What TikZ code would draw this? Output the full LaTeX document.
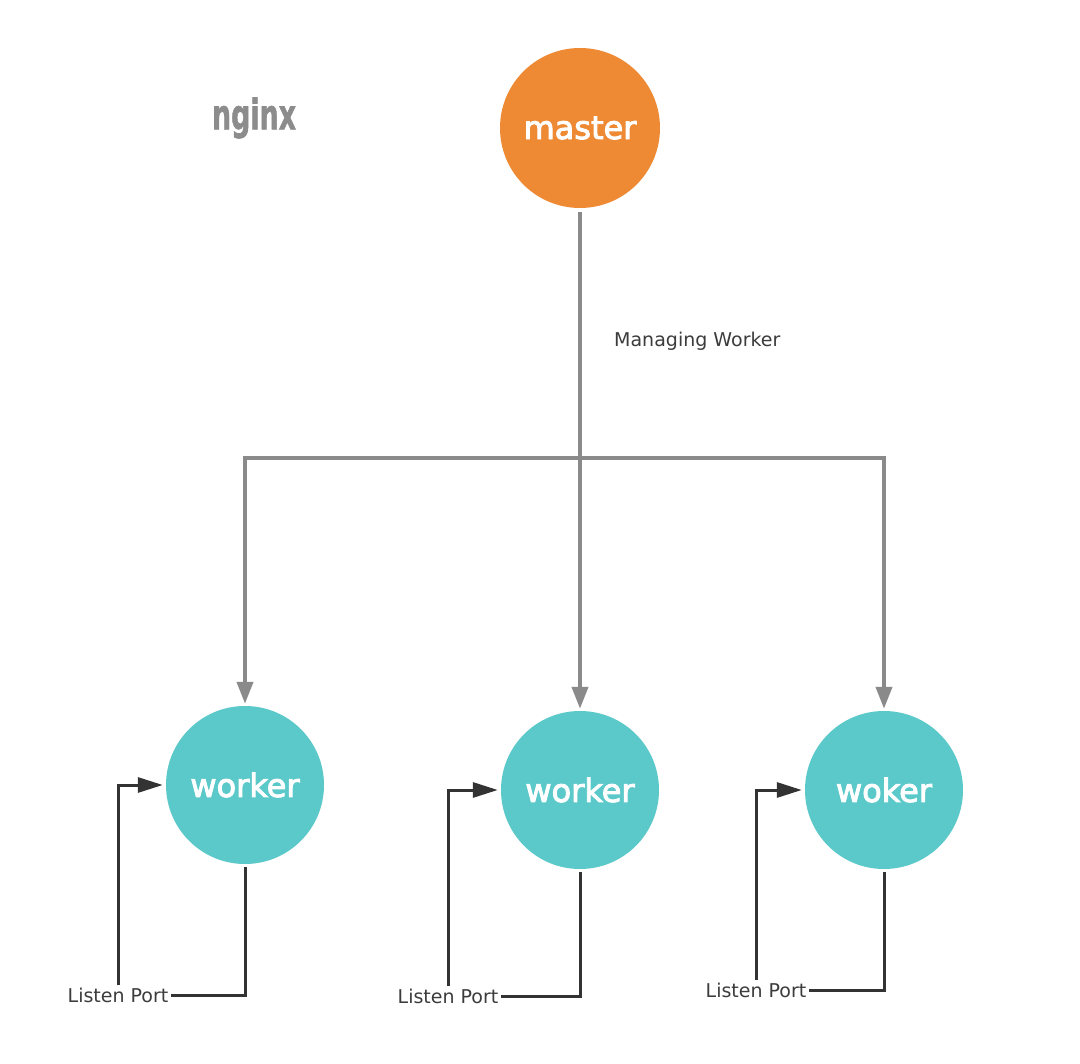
\documentclass[tikz,border=0pt]{standalone}
\usepackage{fontspec}
\setmainfont{DejaVu Sans}
\newfontfamily\boldfam{DejaVu Sans Bold}[FakeBold=1.5]
\newfontfamily\semifam{DejaVu Sans}[FakeBold=3]
\usetikzlibrary{arrows.meta}
\definecolor{mastercol}{RGB}{238,137,52}
\definecolor{workercol}{RGB}{91,200,202}
\definecolor{linegray}{RGB}{138,138,138}
\definecolor{linedark}{RGB}{51,51,51}
\definecolor{labelgray}{RGB}{140,140,140}
\definecolor{textdark}{RGB}{60,60,60}
\tikzset{
  proc/.style={circle, minimum size=160pt, inner sep=0pt, text=white,
    font=\semifam\fontsize{32}{36}\selectfont},
  grayarrow/.style={draw=linegray, line width=4pt,
    -{Triangle[length=22pt,width=16pt]}},
  darkarrow/.style={draw=linedark, line width=3pt,
    -{Triangle[length=25pt,width=15pt]}},
  darkline/.style={draw=linedark, line width=3pt},
  portlabel/.style={inner sep=2pt, text=textdark,
    font=\fontsize{19}{21}\selectfont},
}
\begin{document}
\begin{tikzpicture}[x=1pt,y=-1pt]
\useasboundingbox[fill=white] (0,0) rectangle (1080,1064);

% title
\node[text=labelgray, inner sep=0pt] (title) at (254,118)
  {\scalebox{0.64}[1]{\boldfam\fontsize{42}{46}\selectfont nginx}};

% processes
\node[proc, fill=mastercol] (master) at (580,128) {master};
\node[proc, fill=workercol, minimum size=158pt] (w1) at (245,785) {worker};
\node[proc, fill=workercol, minimum size=158pt] (w2) at (580,790) {worker};
\node[proc, fill=workercol, minimum size=158pt] (w3) at (884,790) {woker};

% managing tree
\coordinate (j) at (580,458);
\draw[grayarrow, shorten <=4pt, shorten >=2pt] (master.south) -- (w2.north);
\draw[grayarrow, shorten >=2pt] (j) -| (w1.north);
\draw[grayarrow, shorten >=2pt] (j) -| (w3.north);

\node[portlabel, anchor=west] (mw) at (612,341) {Managing Worker};

% listen port loops
\node[portlabel] (lp1) at (118,995) {Listen Port};
\node[portlabel] (lp2) at (448,996) {Listen Port};
\node[portlabel] (lp3) at (756,990) {Listen Port};

\draw[darkline, shorten <=3pt] (w1.south) |- (lp1.east);
\draw[darkarrow, shorten >=3pt] (lp1.north) |- (w1.west);
\draw[darkline, shorten <=3pt] (w2.south) |- (lp2.east);
\draw[darkarrow, shorten >=3pt] (lp2.north) |- (w2.west);
\draw[darkline, shorten <=3pt] (w3.south) |- (lp3.east);
\draw[darkarrow, shorten >=3pt] (lp3.north) |- (w3.west);
\end{tikzpicture}
\end{document}
